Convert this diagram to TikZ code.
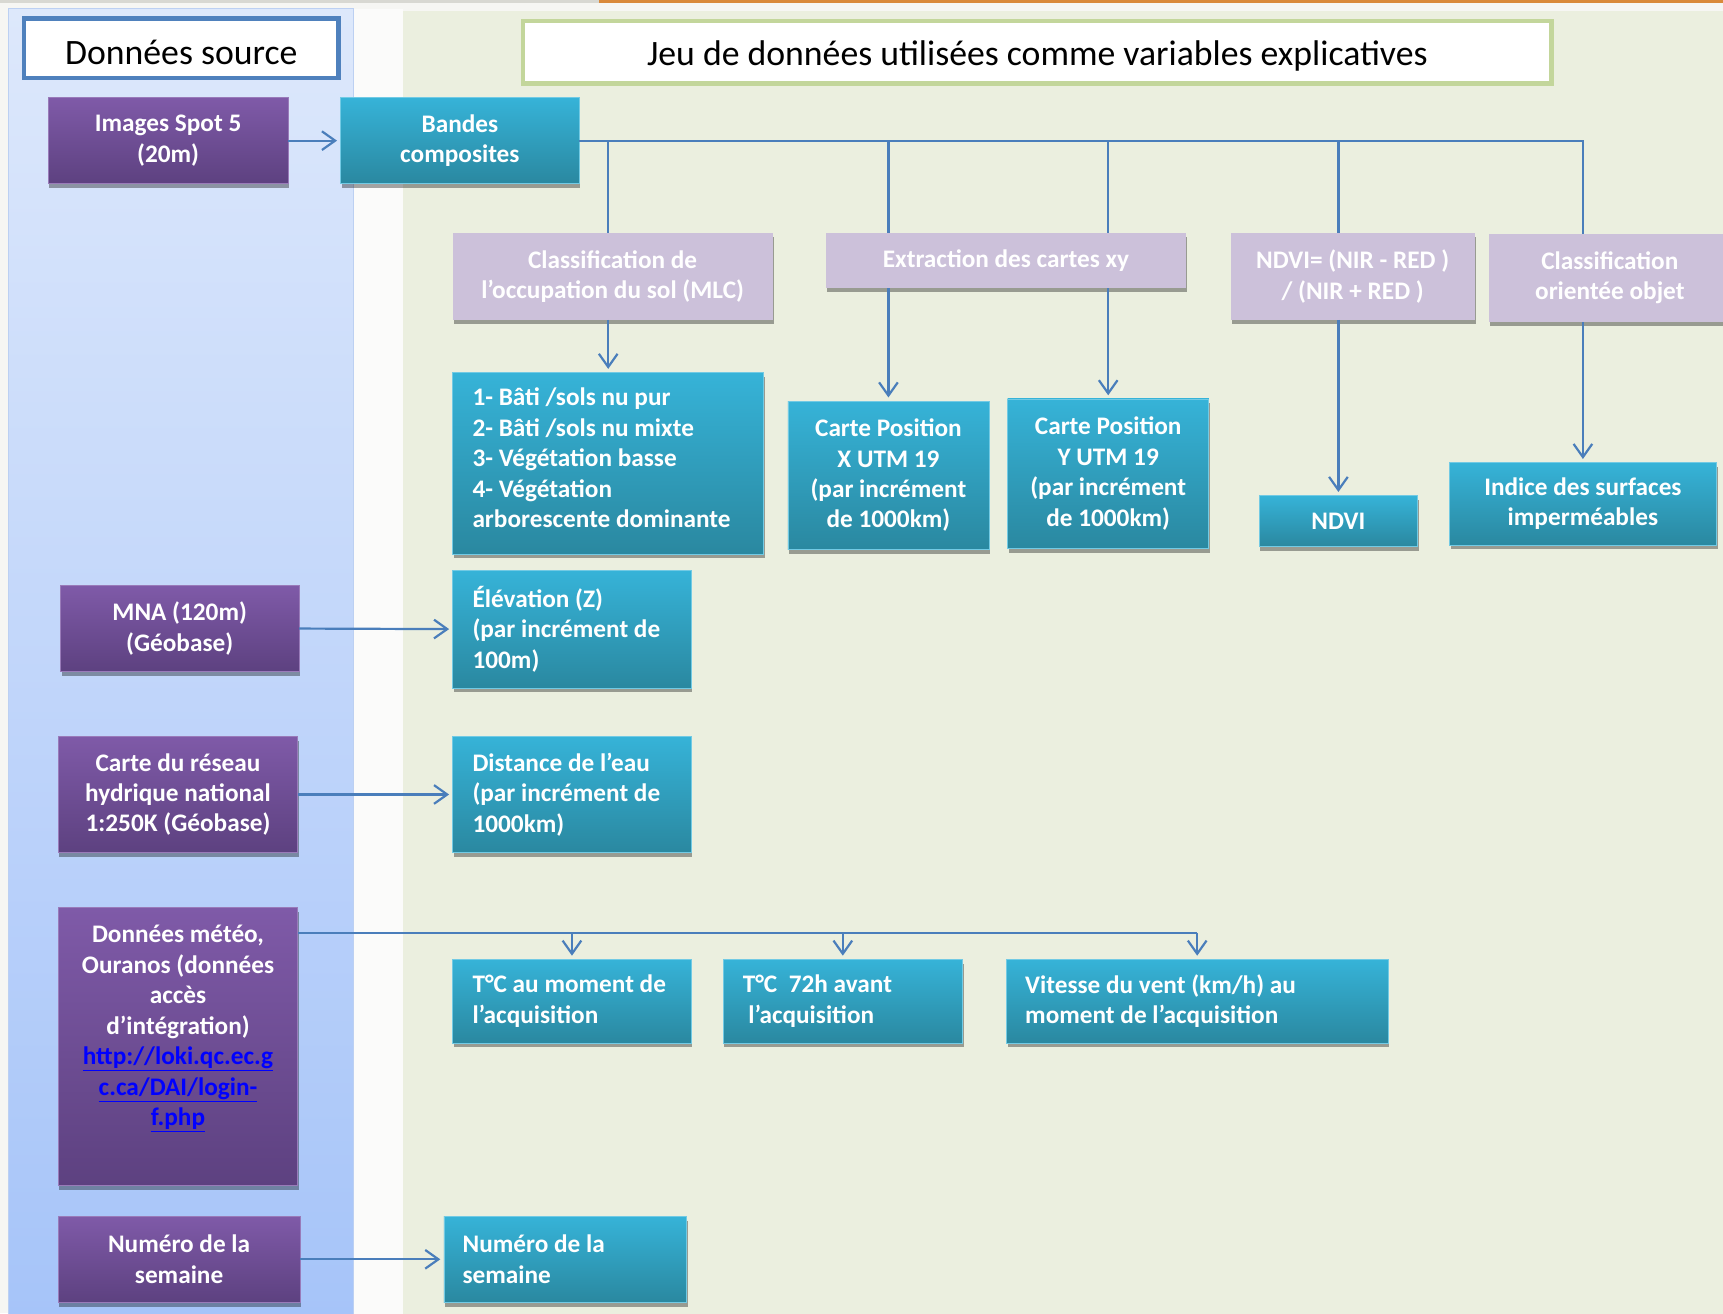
\documentclass[tikz,border=0pt]{standalone}
\usepackage{fontspec}
\setmainfont{Carlito}
\usetikzlibrary{arrows.meta,shadows}
\definecolor{pageBg}{HTML}{F6F6F3}
\definecolor{panelTop}{HTML}{DDE8FB}
\definecolor{panelBot}{HTML}{A6C4F9}
\definecolor{panelEdge}{HTML}{BCD0F2}
\definecolor{greenBg}{HTML}{EBEFDF}
\definecolor{srcBorder}{HTML}{4F81BD}
\definecolor{varBorder}{HTML}{C3D69B}
\definecolor{purpTop}{HTML}{7F5AA8}
\definecolor{purpBot}{HTML}{5D4180}
\definecolor{tealTop}{HTML}{36B3D8}
\definecolor{tealBot}{HTML}{2A88A0}
\definecolor{lilac}{HTML}{CCC1DA}
\definecolor{conn}{HTML}{4A7EBB}
\definecolor{linkblue}{HTML}{0000FF}
\definecolor{stripOrange}{HTML}{D9893A}
\definecolor{stripGray}{HTML}{D8D8D2}
\begin{document}
\begin{tikzpicture}[x=1pt,y=-1pt,
  boxfont/.style={font=\bfseries\fontsize{23}{27.7}\selectfont},
  shadowed/.style={drop shadow={shadow xshift=1pt,shadow yshift=-4pt,fill=black,opacity=0.35}},
  purp/.style={shadowed,rectangle,top color=purpTop,bottom color=purpBot,draw=purpTop!80!white,line width=0.6pt,
    text=white,boxfont,align=center,inner sep=2pt},
  tealc/.style={shadowed,rectangle,top color=tealTop,bottom color=tealBot,draw=tealTop!70!white,line width=0.6pt,
    text=white,boxfont,align=center,inner sep=2pt},
  teall/.style={shadowed,rectangle,top color=tealTop,bottom color=tealBot,draw=tealTop!70!white,line width=0.6pt,
    text=white,boxfont,align=flush left,inner xsep=18pt,inner ysep=2pt},
  lil/.style={shadowed,rectangle,fill=lilac,text=white,boxfont,align=center,inner sep=2pt},
  titlebox/.style={rectangle,fill=white,line width=4pt,font=\fontsize{32.5}{38}\selectfont,inner sep=0pt},
  link/.style={draw=conn,line width=2pt},
  arr/.style={link,-{Straight Barb[length=12pt,width=17pt,line width=2pt]},shorten >=3pt}
]
\clip (0,0) rectangle (1568,1195);
\fill[pageBg] (0,0) rectangle (1568,1195);
% top strip
\fill[stripGray] (0,0) rectangle (545,3);
\fill[stripOrange] (545,0) rectangle (1568,3);
% panels
\shade[top color=panelTop,bottom color=panelBot] (8,8) rectangle (322,1200);
\draw[panelEdge,line width=1pt] (8,1200) -- (8,8) -- (322,8) -- (322,1200);
\fill[white!60!pageBg] (322,8) rectangle (367,1200);
\fill[greenBg] (367,10) rectangle (1570,1200);

% titles
\node[titlebox,draw=srcBorder,minimum width=286pt,minimum height=54pt,text height=29pt,text depth=0pt] (tsrc) at (165,44) {Données source};
\node[titlebox,draw=varBorder,minimum width=936pt,minimum height=57pt,text height=30pt,text depth=6pt] (tvar) at (944,47.5) {Jeu de données utilisées comme variables explicatives};

% source boxes
\node[purp,minimum width=218pt,minimum height=78pt] (spot) at (153,128) {Images Spot 5\\(20m)};
\node[purp,minimum width=217pt,minimum height=78pt] (mna) at (163.5,572) {MNA (120m)\\(Géobase)};
\node[purp,minimum width=218pt,minimum height=106pt] (reseau) at (162,723) {Carte du réseau\\hydrique national\\1:250K (Géobase)};
\node[purp,minimum width=218pt,minimum height=253pt] (meteo) at (162,952.5) {};
\node[text=white,boxfont,align=center,anchor=north,inner sep=0pt] (meteotxt) at (162,842)
  {Données météo,\\Ouranos (données\\accès\\d’intégration)\\
   {\color{linkblue}\underline{http://loki.qc.ec.g}}\\
   {\color{linkblue}\underline{c.ca/DAI/login-}}\\
   {\color{linkblue}\underline{f.php}}};
\node[purp,minimum width=220pt,minimum height=78pt] (nums) at (163,1146) {Numéro de la\\semaine};

% processing boxes
\node[tealc,minimum width=217pt,minimum height=78pt] (band) at (418.5,128) {Bandes\\composites};
\node[lil,minimum width=291pt,minimum height=79pt] (mlc) at (557.5,251.5) {Classification de\\l’occupation du sol (MLC)};
\node[lil,minimum width=327pt,minimum height=50pt] (extr) at (915.5,237) {Extraction des cartes xy};
\node[lil,minimum width=222pt,minimum height=79pt] (ndvif) at (1231,251.5) {NDVI= (NIR - RED )\\/ (NIR + RED )};
\node[lil,minimum width=220pt,minimum height=80pt] (cobj) at (1465,253) {Classification\\orientée objet};

% result boxes
\node[teall,text width=247pt,minimum height=165pt] (bati) at (553.5,421.5)
  {1- Bâti /sols nu pur\\2- Bâti /sols nu mixte\\3- Végétation basse\\4- Végétation\\arborescente dominante\\[-18pt]\mbox{}};
\node[tealc,minimum width=183pt,minimum height=135pt] (cartex) at (808.5,432.5) {Carte Position\\X UTM 19\\(par incrément\\de 1000km)};
\node[tealc,minimum width=183pt,minimum height=136pt] (cartey) at (1008.5,431) {Carte Position\\Y UTM 19\\(par incrément\\de 1000km)};
\node[tealc,minimum width=144pt,minimum height=46pt] (ndvi) at (1218,474) {NDVI};
\node[tealc,minimum width=243pt,minimum height=75pt] (indice) at (1440.5,458.5) {Indice des surfaces\\imperméables};
\node[teall,text width=181pt,minimum height=107pt] (elev) at (520.5,572.5) {Élévation (Z)\\(par incrément de\\100m)};
\node[teall,text width=181pt,minimum height=106pt] (dist) at (520.5,723) {Distance de l’eau\\(par incrément de\\1000km)};
\node[teall,text width=181pt,minimum height=76pt] (tc1) at (520.5,911) {T°C au moment de\\l’acquisition};
\node[teall,text width=182pt,minimum height=76pt] (tc2) at (767,911) {T°C\ \ 72h avant\\\hspace*{5pt}l’acquisition};
\node[teall,text width=313pt,inner xsep=17pt,minimum height=76pt] (vit) at (1089.5,911) {Vitesse du vent (km/h) au\\moment de l’acquisition};
\node[teall,text width=187pt,inner xsep=17pt,minimum height=78pt] (numt) at (514.5,1146) {Numéro de la\\semaine};

% connectors
\draw[arr] (spot.east) -- (band.west);
\draw[link] (band.east) -- (band.east -| indice.north) -- (cobj.north -| indice.north);
\draw[link] (band.east -| bati.north) -- (mlc.north -| bati.north);
\draw[link] (band.east -| cartex.north) -- (extr.north -| cartex.north);
\draw[link] (band.east -| cartey.north) -- (extr.north -| cartey.north);
\draw[link] (band.east -| ndvi.north) -- (ndvif.north -| ndvi.north);
\draw[arr] (mlc.south -| bati.north) -- (bati.north);
\draw[arr] (extr.south -| cartex.north) -- (cartex.north);
\draw[arr] (extr.south -| cartey.north) -- (cartey.north);
\draw[arr] (ndvif.south -| ndvi.north) -- (ndvi.north);
\draw[arr] (cobj.south -| indice.north) -- (indice.north);
\draw[arr] (mna.east) -- (elev.west);
\draw[arr] (reseau.east) -- (dist.west);
\draw[link] ([yshift=-23pt]meteo.north east) -- ([yshift=-23pt]meteo.north east -| vit.north);
\draw[arr] ([yshift=-23pt]meteo.north east -| tc1.north) -- (tc1.north);
\draw[arr] ([yshift=-23pt]meteo.north east -| tc2.north) -- (tc2.north);
\draw[arr] ([yshift=-23pt]meteo.north east -| vit.north) -- (vit.north);
\draw[arr] (nums.east) -- (numt.west);
\end{tikzpicture}
\end{document}
